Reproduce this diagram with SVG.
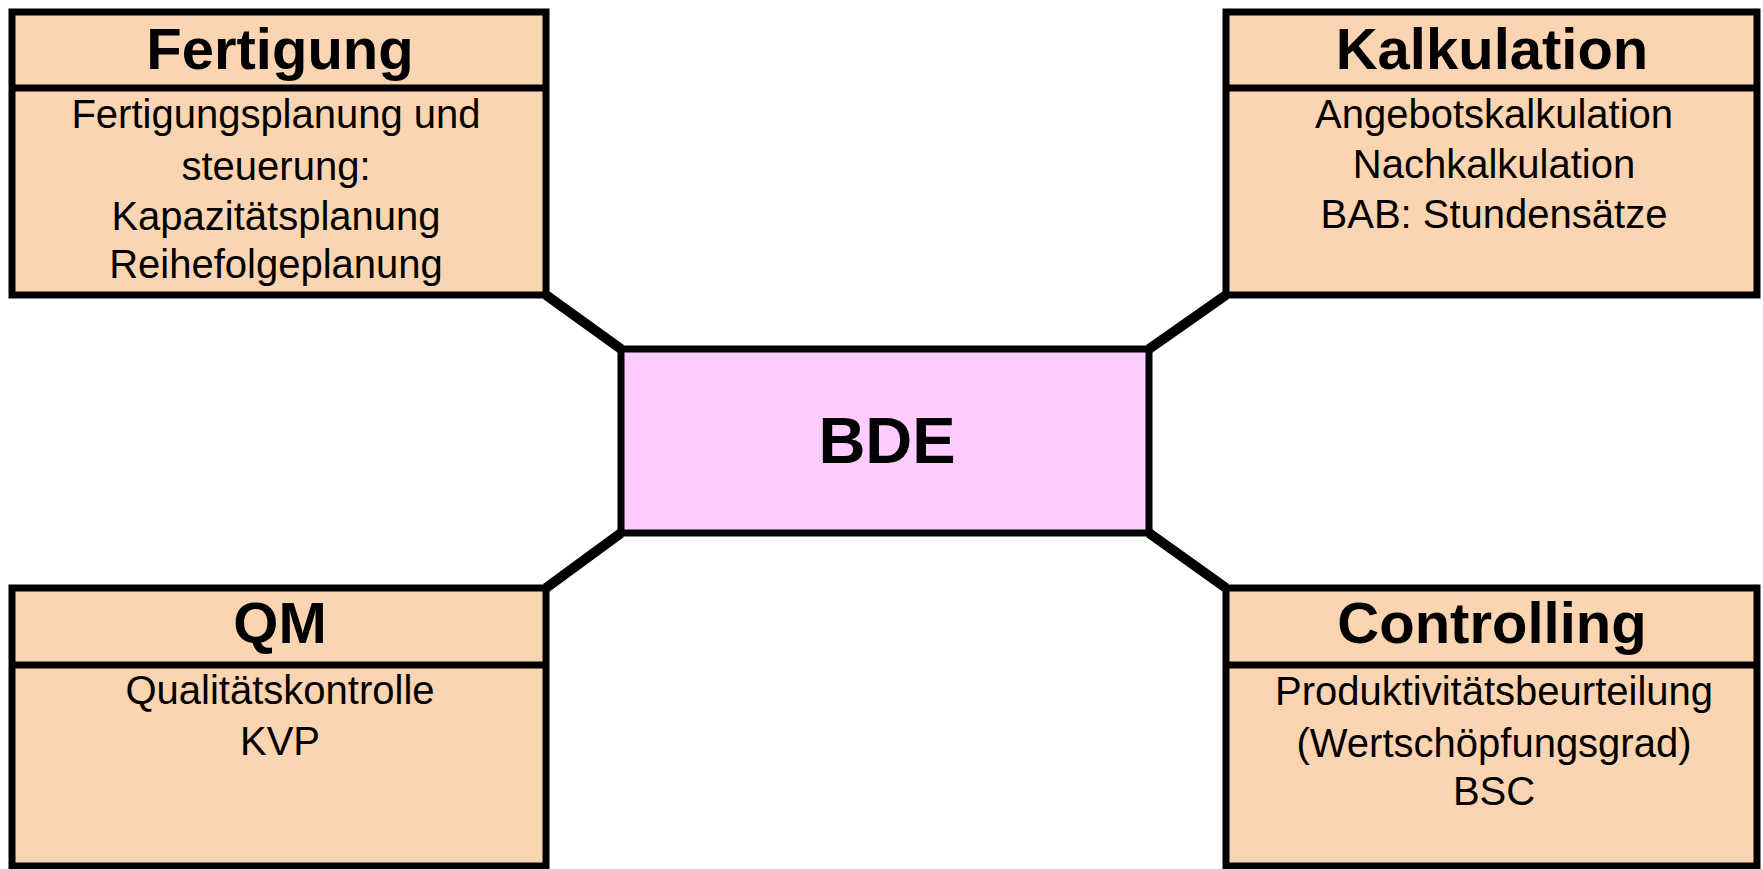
<svg xmlns="http://www.w3.org/2000/svg" width="1763" height="869" viewBox="0 0 1763 869">
<style>
.box{fill:#FBD4B1;stroke:#000;stroke-width:7}
.sep{stroke:#000;stroke-width:7}
.core{fill:#FFCCFF;stroke:#000;stroke-width:7}
.conn{stroke:#000;stroke-width:10;fill:none}
.h{font-family:"Liberation Sans",Arial,sans-serif;font-weight:bold;font-size:58px;text-anchor:middle;fill:#000}
.b{font-family:"Liberation Sans",Arial,sans-serif;font-size:40px;text-anchor:middle;fill:#000}
.c{font-family:"Liberation Sans",Arial,sans-serif;font-weight:bold;font-size:65px;text-anchor:middle;fill:#000}
</style>
<rect width="1763" height="869" fill="#fff"/>
<g id="connectors">
<line class="conn" x1="546" y1="295" x2="621" y2="349"/>
<line class="conn" x1="1226" y1="295" x2="1149" y2="349"/>
<line class="conn" x1="546" y1="588" x2="621" y2="533"/>
<line class="conn" x1="1226" y1="588" x2="1149" y2="533"/>
</g>
<g id="fertigung">
<rect class="box" x="12" y="12" width="534" height="283"/>
<line class="sep" x1="12" y1="88" x2="549" y2="88"/>
<text class="h" x="280" y="69">Fertigung</text>
<text class="b" x="276" y="128">Fertigungsplanung und</text>
<text class="b" x="276" y="180">steuerung:</text>
<text class="b" x="276" y="230">Kapazitätsplanung</text>
<text class="b" x="276" y="278">Reihefolgeplanung</text>
</g>
<g id="kalkulation">
<rect class="box" x="1226" y="12" width="531" height="283"/>
<line class="sep" x1="1226" y1="88" x2="1757" y2="88"/>
<text class="h" x="1492" y="69">Kalkulation</text>
<text class="b" x="1494" y="128">Angebotskalkulation</text>
<text class="b" x="1494" y="178">Nachkalkulation</text>
<text class="b" x="1494" y="228">BAB: Stundensätze</text>
</g>
<g id="bde">
<rect class="core" x="621" y="349" width="528" height="184"/>
<text class="c" x="887" y="463">BDE</text>
</g>
<g id="qm">
<rect class="box" x="12" y="588" width="534" height="278"/>
<line class="sep" x1="12" y1="665" x2="549" y2="665"/>
<text class="h" x="280" y="643">QM</text>
<text class="b" x="280" y="704">Qualitätskontrolle</text>
<text class="b" x="280" y="755">KVP</text>
</g>
<g id="controlling">
<rect class="box" x="1226" y="588" width="531" height="278"/>
<line class="sep" x1="1226" y1="665" x2="1757" y2="665"/>
<text class="h" x="1492" y="643">Controlling</text>
<text class="b" x="1494" y="705">Produktivitätsbeurteilung</text>
<text class="b" x="1494" y="757">(Wertschöpfungsgrad)</text>
<text class="b" x="1494" y="805">BSC</text>
</g>
</svg>
